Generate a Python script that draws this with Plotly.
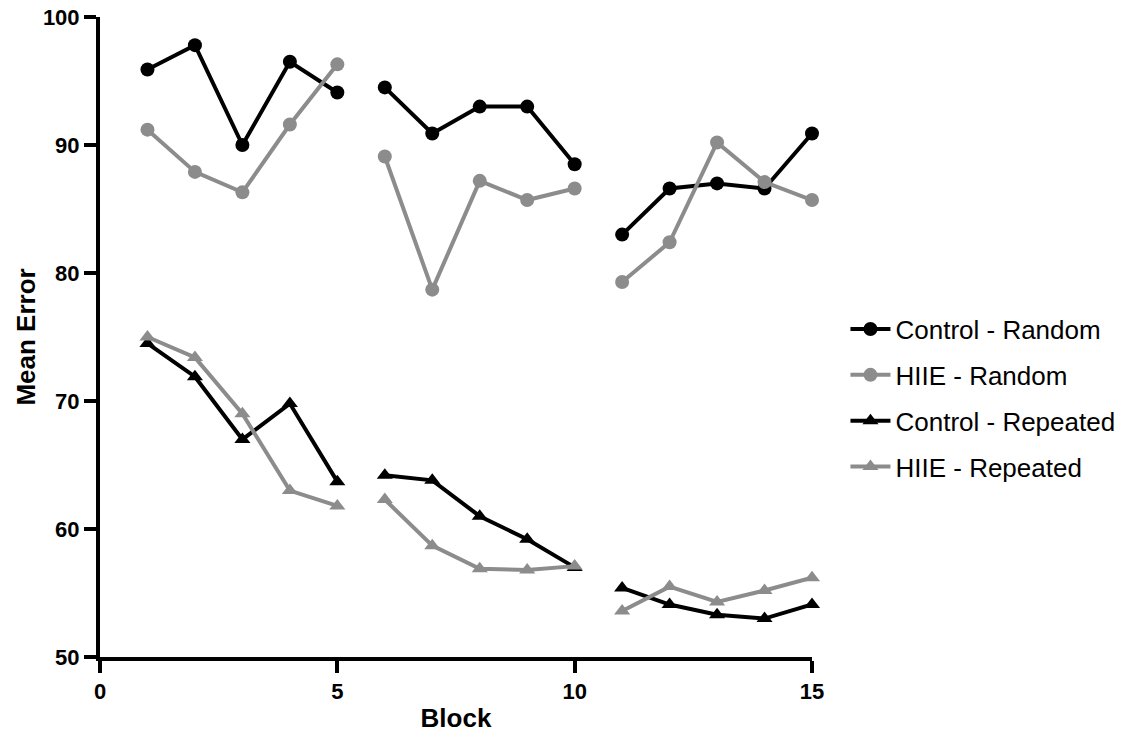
import plotly.graph_objects as go

# Blocks and mean error per group
blocks = list(range(1, 16))
control_random = [95.9, 97.8, 90.0, 96.5, 94.1, 94.5, 90.9, 93.0, 93.0, 88.5, 83.0, 86.6, 87.0, 86.6, 90.9]
hiie_random = [91.2, 87.9, 86.3, 91.6, 96.3, 89.1, 78.7, 87.2, 85.7, 86.6, 79.3, 82.4, 90.2, 87.1, 85.7]
control_repeated = [74.5, 71.9, 67.0, 69.8, 63.7, 64.2, 63.8, 61.0, 59.2, 57.0, 55.4, 54.1, 53.3, 53.0, 54.1]
hiie_repeated = [75.0, 73.4, 69.0, 63.0, 61.8, 62.3, 58.7, 56.9, 56.8, 57.1, 53.6, 55.5, 54.3, 55.2, 56.2]

x_ticks = [0, 5, 10, 15]
y_ticks = [50, 60, 70, 80, 90, 100]

BLACK = "#000000"
GRAY = "#8c8c8c"
FONT = "Liberation Sans, Arial, sans-serif"


def segmented(xs, ys, size=5):
    """Split into runs of `size` blocks with breaks in between."""
    sx, sy = [], []
    for i in range(0, len(xs), size):
        if sx:
            sx.append(None)
            sy.append(None)
        sx.extend(xs[i:i + size])
        sy.extend(ys[i:i + size])
    return sx, sy


series = [
    ("Control - Random", control_random, BLACK, "circle", 14),
    ("HIIE - Random", hiie_random, GRAY, "circle", 14),
    ("Control - Repeated", control_repeated, BLACK, "triangle-up", 14),
    ("HIIE - Repeated", hiie_repeated, GRAY, "triangle-up", 14),
]

fig = go.Figure()
for i, (name, vals, color, symbol, msize) in enumerate(series):
    sx, sy = segmented(blocks, vals)
    fig.add_trace(go.Scatter(
        x=sx, y=sy, name=name, mode="lines+markers",
        line=dict(color=color, width=4),
        marker=dict(color=color, symbol=symbol, size=msize),
        connectgaps=False, cliponaxis=False,
        legendgroup=f"g{i}",
    ))

axis_common = dict(
    showgrid=False, zeroline=False, showline=True,
    linecolor=BLACK, linewidth=4,
    ticks="outside", ticklen=12, tickwidth=3.5, tickcolor=BLACK,
    tickfont=dict(family=FONT, size=22, color=BLACK, weight="bold"),
)

fig.update_layout(
    width=1136, height=740,
    margin=dict(l=100, r=324, t=17, b=83, autoexpand=False),
    paper_bgcolor="white", plot_bgcolor="white",
    font=dict(family=FONT, color=BLACK),
    xaxis=dict(range=[0, 15], tickvals=x_ticks, **axis_common,
               title=dict(text="Block", standoff=6,
                          font=dict(family=FONT, size=26, color=BLACK, weight="bold"))),
    yaxis=dict(range=[50, 100], tickvals=y_ticks, **axis_common,
               title=dict(text="Mean Error", standoff=1,
                          font=dict(family=FONT, size=26, color=BLACK, weight="bold"))),
    legend=dict(
        x=1.047, xanchor="left", y=0.549, yanchor="top",
        font=dict(family=FONT, size=26, color=BLACK),
        tracegroupgap=9, bgcolor="rgba(0,0,0,0)",
        itemwidth=40,
    ),
    showlegend=True,
)

fig.write_html("out.html")
